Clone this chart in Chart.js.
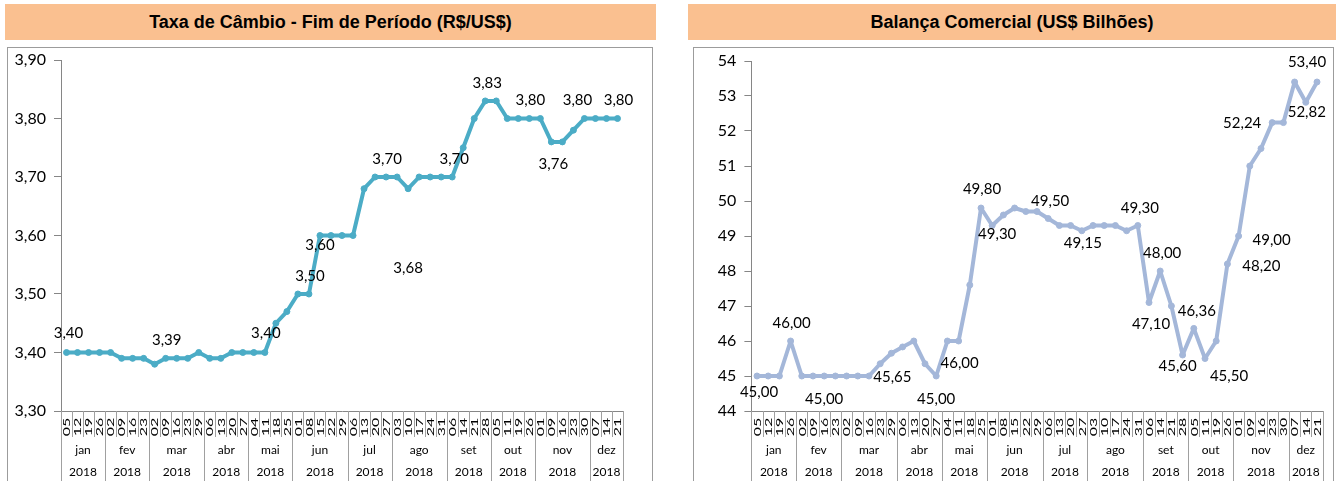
<!DOCTYPE html>
<html><head><meta charset="utf-8">
<script src="https://cdn.jsdelivr.net/npm/chart.js@4.4.1/dist/chart.umd.min.js"></script>
<style>
html,body{margin:0;padding:0;background:#fff}
body{width:1341px;height:481px;overflow:hidden;position:relative}
.title{position:absolute;top:4px;height:36px;background:#FAC090;font:bold 18px "Liberation Sans",Arial,sans-serif;display:flex;align-items:center;justify-content:center;color:#000}
.box{position:absolute;top:47px;height:445px;border:1px solid #9c9c9c;box-sizing:border-box}
canvas{position:absolute}
</style></head><body>
<div class="title" style="left:5px;width:651px">Taxa de Câmbio - Fim de Período (R$/US$)</div>
<div class="title" style="left:688px;width:648px">Balança Comercial (US$ Bilhões)</div>
<div class="box" style="left:7px;width:646px"></div>
<div class="box" style="left:693px;width:641px"></div>
<canvas id="c1" width="643" height="433" style="left:8px;top:48px"></canvas>
<canvas id="c2" width="638" height="433" style="left:694px;top:48px"></canvas>
<script>
// ---- data ----
const months = ['jan','fev','mar','abr','mai','jun','jul','ago','set','out','nov','dez'];
const monthYears = ['2018','2018','2018','2018','2018','2018','2018','2018','2018','2018','2018','2018'];
const weeksPerMonth = [4,4,5,4,4,5,4,5,4,4,5,3];
const days = ['05','12','19','26','02','09','16','23','02','09','16','23','29','06','13','20','27',
  '04','11','18','25','01','08','15','22','29','06','13','20','27','03','10','17','24','31',
  '06','14','21','28','05','11','19','26','01','09','16','23','30','07','14','21'];
const cambio = [3.40,3.40,3.40,3.40, 3.40,3.39,3.39,3.39, 3.38,3.39,3.39,3.39,3.40,
  3.39,3.39,3.40,3.40, 3.40,3.40,3.45,3.47, 3.50,3.50,3.60,3.60,3.60,
  3.60,3.68,3.70,3.70, 3.70,3.68,3.70,3.70,3.70, 3.70,3.75,3.80,3.83,
  3.83,3.80,3.80,3.80, 3.80,3.76,3.76,3.78,3.80, 3.80,3.80,3.80];
const balanca = [45.00,45.00,45.00,46.00, 45.00,45.00,45.00,45.00, 45.00,45.00,45.00,45.35,45.65,
  45.83,46.00,45.35,45.00, 46.00,46.00,47.60,49.80, 49.30,49.60,49.80,49.70,49.70,
  49.50,49.30,49.30,49.15, 49.30,49.30,49.30,49.15,49.30, 47.10,48.00,47.00,45.60,
  46.36,45.50,46.00,48.20, 49.00,51.00,51.50,52.24,52.24, 53.40,52.82,53.40];
const cambioTicks = {min:3.30, max:3.90, step:0.10};
const balancaTicks = {min:44, max:54, step:1};
// which points carry a value label, and where it sits relative to the point
const cambioLabelIdx = [0,9,18,22,23,29,31,35,38,42,44,47,50];
const cambioLabelDx  = [2,1,1,1,0,1,0,2,2,1,2,-7,1];
const cambioLabelDy  = [-19,-18,-19,-18,10,-18,79,-18,-18,-18,22,-18,-18];
const balancaLabelIdx = [0,3,6,12,16,18,20,21,26,29,34,35,36,38,39,40,42,43,46,49,50];
const balancaLabelDx  = [2,1,0,1,0,1,1,5,2,1,2,2,2,-5,3,24,34,33,-30,1,-10];
const balancaLabelDy  = [16,-18,23,24,23,22,-19,9,-17,12,-17,22,-18,11,-17,18,2,4,1,10,-20];

const FONT = 'Lato, "Open Sans", sans-serif';
const fmt2 = v => v.toFixed(2).replace('.', ',');

const axisPlugin = {
  id: 'multiAxis',
  afterDraw(chart) {
    const x = chart.scales.x, ctx = chart.ctx;
    const p0 = x.getPixelForValue(0);
    const step = x.getPixelForValue(1) - p0;
    const top = x.top, bottom = chart.height;
    ctx.save();
    ctx.strokeStyle = '#a0a0a0'; ctx.lineWidth = 1;
    for (let i = 0; i <= days.length; i++) {
      const px = Math.round(p0 - step / 2 + i * step) + 0.5;
      ctx.beginPath(); ctx.moveTo(px, top); ctx.lineTo(px, top + 26); ctx.stroke();
    }
    ctx.fillStyle = '#000'; ctx.textAlign = 'center'; ctx.textBaseline = 'middle';
    ctx.font = '10px ' + FONT;
    days.forEach((d, i) => {
      const px = x.getPixelForValue(i);
      ctx.save(); ctx.translate(px + 0.5, top + 16); ctx.rotate(-Math.PI / 2); ctx.scale(1.6, 1);
      ctx.fillText(d, 0, 0); ctx.restore();
    });
    let start = 0;
    ctx.font = '12px ' + FONT;
    weeksPerMonth.forEach((n, m) => {
      const l = x.getPixelForValue(start) - step / 2;
      const r = x.getPixelForValue(start + n - 1) + step / 2;
      [l, r].forEach(v => {
        const px = Math.round(v) + 0.5;
        ctx.beginPath(); ctx.moveTo(px, top); ctx.lineTo(px, bottom); ctx.stroke();
      });
      ctx.fillText(months[m], (l + r) / 2, top + 39);
      ctx.fillText(monthYears[m], (l + r) / 2, top + 61);
      start += n;
    });
    ctx.restore();
  }
};

function labelPlugin(values, idx, dx, dy) {
  return {
    id: 'valueLabels',
    afterDatasetsDraw(chart) {
      const meta = chart.getDatasetMeta(0), ctx = chart.ctx;
      ctx.save();
      ctx.font = '15px ' + FONT; ctx.fillStyle = '#000';
      ctx.textAlign = 'center'; ctx.textBaseline = 'middle';
      idx.forEach((k, j) => {
        const pt = meta.data[k];
        ctx.fillText(fmt2(values[k]), pt.x + dx[j], pt.y + dy[j]);
      });
      ctx.restore();
    }
  };
}

function makeChart(id, values, color, ticks, tickFmt, yWidth, pad, lbl, tickFont) {
  return new Chart(document.getElementById(id), {
    type: 'line',
    data: { labels: days, datasets: [{
      data: values, borderColor: color, backgroundColor: color,
      borderWidth: 4, pointRadius: 3, pointBorderWidth: 1, pointBackgroundColor: color,
      pointBorderColor: color, tension: 0, borderJoinStyle: 'round', borderCapStyle: 'round', clip: false
    }]},
    options: {
      responsive: false, animation: false, devicePixelRatio: 1,
      layout: { padding: pad },
      plugins: { legend: { display: false }, tooltip: { enabled: false } },
      scales: {
        x: { type: 'category', offset: true,
             ticks: { display: false }, grid: { display: false },
             border: { display: true, color: '#868686', width: 1 },
             afterFit: s => { s.height = 70; s.paddingLeft = 0; s.paddingRight = 0; } },
        y: { min: ticks.min, max: ticks.max,
             ticks: { stepSize: ticks.step, callback: tickFmt, color: '#000',
                      font: { family: FONT, size: tickFont }, padding: 8 },
             grid: { drawOnChartArea: false, drawTicks: true, tickLength: 7, color: '#868686' },
             border: { display: true, color: '#868686', width: 1 },
             afterFit: s => { s.width = yWidth; s.paddingTop = 0; s.paddingBottom = 0; } }
      }
    },
    plugins: [axisPlugin, labelPlugin(values, lbl[0], lbl[1], lbl[2])]
  });
}

makeChart('c1', cambio, '#4BACC6', cambioTicks, v => fmt2(v), 53,
  { left: 0, right: 28, top: 12, bottom: 0 },
  [cambioLabelIdx, cambioLabelDx, cambioLabelDy], 16);
makeChart('c2', balanca, '#A4B7D9', balancaTicks, v => String(Math.round(v)), 57.4,
  { left: 0, right: 9.4, top: 13, bottom: 0 },
  [balancaLabelIdx, balancaLabelDx, balancaLabelDy], 16);
</script>
</body></html>
